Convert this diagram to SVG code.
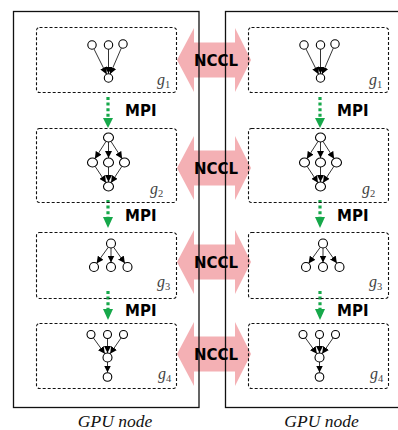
<svg xmlns="http://www.w3.org/2000/svg" xmlns:xlink="http://www.w3.org/1999/xlink" width="398" height="430" viewBox="0 0 398 430">
<style>
.gpu{fill:none;stroke:#111;stroke-width:1.3}
.sub{fill:none;stroke:#111;stroke-width:1.1;stroke-dasharray:3 2}
.nd{fill:#fff;stroke:#000;stroke-width:1.1}
.ed{stroke:#000;stroke-width:0.8;marker-end:url(#ah)}
.nccl{fill:#f4b0b4}
.mpi{stroke:#16a84a;stroke-width:3.2;stroke-dasharray:3 2.6}
.mpih{fill:#16a84a}
.bt{font-family:'DejaVu Sans',Verdana,sans-serif;font-weight:bold;font-size:15px;fill:#000}
.gl{font-family:'Liberation Serif','DejaVu Serif',serif;font-style:italic;font-size:16px;fill:#444}
.gs{font-size:10.5px;font-style:normal}
.cap{font-family:'Liberation Serif','DejaVu Serif',serif;font-style:italic;font-size:17.5px;fill:#111;text-anchor:middle}
</style>
<defs>
<marker id="ah" markerUnits="userSpaceOnUse" markerWidth="7" markerHeight="7" refX="7" refY="3.5" orient="auto">
<path d="M0,0 L7,3.5 L0,7 z" fill="#000"/>
</marker>
<path id="nccl-shape" class="nccl" d="M177,0 L194,-32 L194,-17.5 L235,-17.5 L235,-32 L251,0 L235,32 L235,17.5 L194,17.5 L194,32 z"/>
<g id="graph1">
<line class="ed" x1="93.9" y1="48.8" x2="106.6" y2="74.2"/>
<line class="ed" x1="108.5" y1="49.2" x2="108.5" y2="73.8"/>
<line class="ed" x1="121.4" y1="47.9" x2="110.1" y2="74.1"/>
<circle class="nd" cx="92" cy="45" r="4.2"/>
<circle class="nd" cx="108.5" cy="45" r="4.2"/>
<circle class="nd" cx="123" cy="44" r="4.2"/>
<circle class="nd" cx="108.5" cy="78" r="4.2"/>
</g>
<g id="graph2">
<line class="ed" x1="106.1" y1="141.3" x2="94.9" y2="158.7"/>
<line class="ed" x1="108.5" y1="142" x2="108.5" y2="158"/>
<line class="ed" x1="110.9" y1="141.3" x2="122.1" y2="158.7"/>
<line class="ed" x1="95" y1="166.2" x2="106" y2="182.8"/>
<line class="ed" x1="108.5" y1="167" x2="108.5" y2="182"/>
<line class="ed" x1="122" y1="166.2" x2="111" y2="182.8"/>
<ellipse class="nd" cx="108.5" cy="137.5" rx="5" ry="4.5"/>
<ellipse class="nd" cx="92.5" cy="162.5" rx="5" ry="4.5"/>
<ellipse class="nd" cx="108.5" cy="162.5" rx="5" ry="4.5"/>
<ellipse class="nd" cx="124.5" cy="162.5" rx="5" ry="4.5"/>
<ellipse class="nd" cx="108.5" cy="186.5" rx="5" ry="4.5"/>
</g>
<g id="graph3">
<line class="ed" x1="108.4" y1="247.1" x2="96.6" y2="263.4"/>
<line class="ed" x1="111" y1="248" x2="111" y2="262.5"/>
<line class="ed" x1="113.6" y1="247.2" x2="124.9" y2="263.3"/>
<circle class="nd" cx="111" cy="243.5" r="4.5"/>
<circle class="nd" cx="94" cy="267" r="4.5"/>
<circle class="nd" cx="111" cy="267" r="4.5"/>
<circle class="nd" cx="127.5" cy="267" r="4.5"/>
</g>
<g id="graph4">
<line class="ed" x1="93.3" y1="337.8" x2="104.9" y2="353.8"/>
<line class="ed" x1="107.5" y1="338.5" x2="107.5" y2="353"/>
<line class="ed" x1="121.2" y1="337.8" x2="110.1" y2="353.8"/>
<line class="ed" x1="107.5" y1="362" x2="107.5" y2="372.5"/>
<circle class="nd" cx="91" cy="334.5" r="4"/>
<circle class="nd" cx="107.5" cy="334.5" r="4"/>
<circle class="nd" cx="123.5" cy="334.5" r="4"/>
<circle class="nd" cx="107.5" cy="357.5" r="4.5"/>
<circle class="nd" cx="107.5" cy="377" r="4.3"/>
</g>
</defs>

<g id="connectors">
<use xlink:href="#nccl-shape" href="#nccl-shape" transform="translate(0,60)"/>
<use xlink:href="#nccl-shape" href="#nccl-shape" transform="translate(0,168)"/>
<use xlink:href="#nccl-shape" href="#nccl-shape" transform="translate(0,262)"/>
<use xlink:href="#nccl-shape" href="#nccl-shape" transform="translate(0,354)"/>
<line class="mpi" x1="108" y1="97" x2="108" y2="118"/>
<polygon class="mpih" points="103,118 113,118 108,128"/>
<line class="mpi" x1="108" y1="200" x2="108" y2="217"/>
<polygon class="mpih" points="103,217 113,217 108,228"/>
<line class="mpi" x1="108" y1="291" x2="108" y2="309"/>
<polygon class="mpih" points="103,309 113,309 108,320"/>
<line class="mpi" x1="320" y1="97" x2="320" y2="118"/>
<polygon class="mpih" points="315,118 325,118 320,128"/>
<line class="mpi" x1="320" y1="200" x2="320" y2="217"/>
<polygon class="mpih" points="315,217 325,217 320,228"/>
<line class="mpi" x1="320" y1="291" x2="320" y2="309"/>
<polygon class="mpih" points="315,309 325,309 320,320"/>
</g>

<g id="gpu-node-left">
<rect class="gpu" x="13.5" y="11.5" width="185.5" height="396"/>
<text class="cap" x="115" y="427">GPU node</text>
</g>
<g id="gpu-node-right">
<rect class="gpu" x="225.5" y="11.5" width="190" height="396"/>
<text class="cap" x="321.5" y="427">GPU node</text>
</g>

<g id="left-g1">
<rect class="sub" x="36.5" y="27.5" width="140" height="65" rx="3"/>
<use xlink:href="#graph1" href="#graph1"/>
<text class="gl" x="157" y="85">g<tspan class="gs" dy="2.5">1</tspan></text>
</g>
<g id="left-g2">
<rect class="sub" x="36.5" y="128.5" width="140" height="74" rx="3"/>
<use xlink:href="#graph2" href="#graph2"/>
<text class="gl" x="150" y="194">g<tspan class="gs" dy="2.5">2</tspan></text>
</g>
<g id="left-g3">
<rect class="sub" x="36.5" y="232.5" width="140" height="66" rx="3"/>
<use xlink:href="#graph3" href="#graph3"/>
<text class="gl" x="157" y="287">g<tspan class="gs" dy="2.5">3</tspan></text>
</g>
<g id="left-g4">
<rect class="sub" x="36.5" y="323.5" width="140" height="65" rx="3"/>
<use xlink:href="#graph4" href="#graph4"/>
<text class="gl" x="158" y="379">g<tspan class="gs" dy="2.5">4</tspan></text>
</g>

<g id="right-g1">
<rect class="sub" x="248.5" y="27.5" width="140" height="65" rx="3"/>
<use xlink:href="#graph1" href="#graph1" transform="translate(212,0)"/>
<text class="gl" x="369" y="85">g<tspan class="gs" dy="2.5">1</tspan></text>
</g>
<g id="right-g2">
<rect class="sub" x="248.5" y="128.5" width="140" height="74" rx="3"/>
<use xlink:href="#graph2" href="#graph2" transform="translate(212,0)"/>
<text class="gl" x="362" y="194">g<tspan class="gs" dy="2.5">2</tspan></text>
</g>
<g id="right-g3">
<rect class="sub" x="248.5" y="232.5" width="140" height="66" rx="3"/>
<use xlink:href="#graph3" href="#graph3" transform="translate(212,0)"/>
<text class="gl" x="369" y="287">g<tspan class="gs" dy="2.5">3</tspan></text>
</g>
<g id="right-g4">
<rect class="sub" x="248.5" y="323.5" width="140" height="65" rx="3"/>
<use xlink:href="#graph4" href="#graph4" transform="translate(212,0)"/>
<text class="gl" x="370" y="379">g<tspan class="gs" dy="2.5">4</tspan></text>
</g>

<g id="labels">
<text class="bt" x="216" y="65.5" text-anchor="middle">NCCL</text>
<text class="bt" x="216" y="173.5" text-anchor="middle">NCCL</text>
<text class="bt" x="216" y="267.5" text-anchor="middle">NCCL</text>
<text class="bt" x="216" y="359.5" text-anchor="middle">NCCL</text>
<text class="bt" x="125" y="116">MPI</text>
<text class="bt" x="125" y="221">MPI</text>
<text class="bt" x="125" y="316">MPI</text>
<text class="bt" x="337" y="116">MPI</text>
<text class="bt" x="337" y="221">MPI</text>
<text class="bt" x="337" y="316">MPI</text>
</g>
</svg>
